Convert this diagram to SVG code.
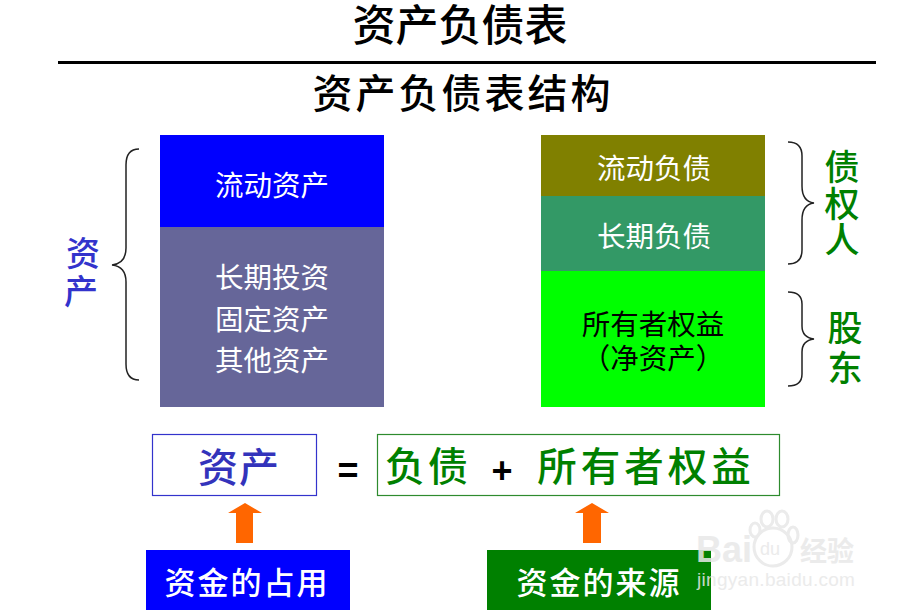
<svg xmlns="http://www.w3.org/2000/svg" width="906" height="610" viewBox="0 0 906 610">
<style>
text{font-family:"Liberation Sans","Noto Sans CJK SC",sans-serif;text-anchor:middle}
.w{fill:#fff;font-size:28.500px}
.k{fill:#000;font-size:28.500px}
.brace{fill:none;stroke:#222;stroke-width:1.5}
.blue{fill:#3333cc;font-size:34px;font-weight:500}
.green{fill:#008000;font-size:35px;font-weight:500}
.arrow{fill:#ff6600}
.wm{fill:#e8e8e8;text-anchor:start}
.pad{fill:none;stroke:#e8e8e8;stroke-width:3}
</style>
<rect width="906" height="610" fill="#fff"/>
<g id="title">
<text x="460" y="41" font-size="43" font-weight="500" fill="#000">资产负债表</text>
<rect x="58" y="61" width="818" height="3" fill="#000"/>
<text x="463" y="108" font-size="40" font-weight="500" letter-spacing="3" fill="#000">资产负债表结构</text>
</g>
<g id="assets-current"><rect x="160" y="135" width="224" height="92" fill="#0000ff"/><text class="w" x="272" y="196">流动资产</text></g>
<g id="assets-other"><rect x="160" y="227" width="224" height="180" fill="#666699"/>
<text class="w" x="272" y="288">长期投资</text><text class="w" x="272" y="330">固定资产</text><text class="w" x="272" y="371">其他资产</text></g>
<g id="liab-current"><rect x="541" y="135" width="224" height="61" fill="#808000"/><text class="w" x="654" y="179">流动负债</text></g>
<g id="liab-long"><rect x="541" y="196" width="224" height="75" fill="#339966"/><text class="w" x="654" y="247">长期负债</text></g>
<g id="equity"><rect x="541" y="271" width="224" height="136" fill="#00ff00"/>
<text class="k" x="653" y="335">所有者权益</text><text class="k" x="653" y="369">（净资产）</text></g>
<g id="braces">
<path class="brace" d="M139 149C130 149 126 154 126 165V248C126 258 121 264 112 265C121 266 126 272 126 282V364C126 375 130 380 139 380"/>
<path class="brace" d="M788 142C798 142 802 147 802 156V186C802 196 806 202 814 203C806 204 802 210 802 220V250C802 259 798 264 788 264"/>
<path class="brace" d="M788 292C798 292 802 296 802 304V326C802 334 806 338 814 339C806 340 802 344 802 352V374C802 382 798 386 788 386"/>
</g>
<g id="label-assets"><text class="blue" x="83" y="266">资</text><text class="blue" x="81" y="304">产</text></g>
<g id="label-creditor"><text class="green" x="842" y="180">债</text><text class="green" x="842" y="217">权</text><text class="green" x="842" y="253">人</text></g>
<g id="label-holder"><text class="green" x="845" y="341">股</text><text class="green" x="845" y="381">东</text></g>
<g id="eq-assets"><rect x="152.500" y="434.500" width="164" height="61" fill="#fff" stroke="#3333cc" stroke-width="1.200"/>
<text x="239" y="482" font-size="40" font-weight="500" letter-spacing="1" fill="#3333bb">资产</text></g>
<text x="348" y="483" font-size="36" font-weight="700">=</text>
<g id="eq-right"><rect x="377.500" y="434.500" width="402" height="61" fill="#fff" stroke="#2e8b2e" stroke-width="1.200"/>
<text x="428" y="481" font-size="40" font-weight="500" letter-spacing="3" fill="#008000">负债</text>
<text x="502" y="483" font-size="36" font-weight="700">+</text>
<text x="646" y="481" font-size="39.500" font-weight="500" letter-spacing="4" fill="#008000">所有者权益</text></g>
<g id="connectors">
<polygon class="arrow" points="245,503 262,513 253,513 253,543 236,543 236,513 228,513"/>
<polygon class="arrow" points="592,503 609,513 601,513 601,543 583,543 583,513 575,513"/>
</g>
<g id="src-use"><rect x="146" y="550" width="204" height="60" fill="#0000ff"/><text x="247" y="594" font-size="31" font-weight="500" letter-spacing="2" fill="#fff">资金的占用</text></g>
<g id="src-from"><rect x="487" y="550" width="224" height="60" fill="#008000"/><text x="599" y="594" font-size="31" font-weight="500" letter-spacing="2" fill="#fff">资金的来源</text></g>
<g id="watermark" opacity="0.85">
<text class="wm" x="696" y="562" font-size="36" font-weight="700">Bai</text>
<circle cx="773" cy="547" r="19" class="pad"/>
<text class="wm" x="760" y="555" font-size="18">du</text>
<ellipse cx="755" cy="530" rx="5" ry="7" class="pad"/>
<ellipse cx="767" cy="519" rx="6" ry="8" class="pad"/>
<ellipse cx="782" cy="519" rx="6" ry="8" class="pad"/>
<ellipse cx="793" cy="535" rx="5" ry="8" class="pad"/>
<text class="wm" x="800" y="561" font-size="27" font-weight="700">经验</text>
<text class="wm" x="697" y="586" font-size="19" letter-spacing=".3">jingyan.baidu.com</text>
</g>
</svg>
